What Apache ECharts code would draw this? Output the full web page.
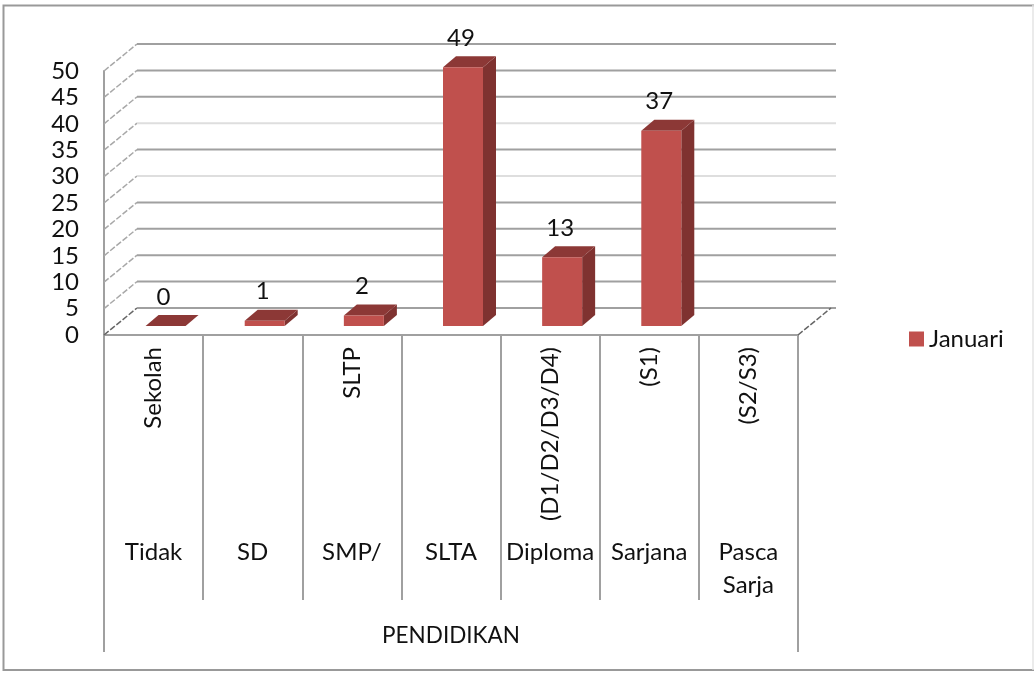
<!DOCTYPE html>
<html lang="en">

<head>
    <meta charset="UTF-8">
    <title>Pendidikan</title>
    <style>
        html, body { margin: 0; padding: 0; background: #fff; }
    </style>
</head>

<body>
    <div id="main" style="width: 1034px; height: 675px"></div>
    <script src="https://cdn.jsdelivr.net/npm/echarts@6/dist/echarts.min.js"></script>
    <script type="text/javascript">
        // chart data
        var categories = ['Tidak', 'SD', 'SMP/', 'SLTA', 'Diploma', 'Sarjana', 'Pasca\nSarja'];
        var subCategories = ['Sekolah', '', 'SLTP', '', '(D1/D2/D3/D4)', '(S1)', '(S2/S3)'];
        var groupLabels = ['PENDIDIKAN'];
        var seriesName = 'Januari';
        var januari = [0, 1, 2, 49, 13, 37, null];
        var yTicks = [0, 5, 10, 15, 20, 25, 30, 35, 40, 45, 50];
        var paleTicks = [25, 35];

        var myChart = echarts.init(document.getElementById('main'));

        var font = 'Lato';
        var fontSize = 24;
        var textColor = '#111';
        var lineColor = '#a0a0a0';

        // depth of the fake 3d box, in px
        var wallDx = 33, wallDy = 27, wallRight = 38;
        // bars stand in the middle of the floor
        var barLift = 9, barShift = 12, barWidth = 40, barDx = 13, barDy = 11;

        function renderWall(params, api) {
            var v = api.value(0);
            var p = api.coord([0, v]);
            var band = api.size([1, 0])[0];
            var x0 = p[0] - band / 2;
            var x1 = x0 + band * categories.length;
            var pale = paleTicks.indexOf(v) >= 0;
            return {
                type: 'group',
                children: [{
                    type: 'line',
                    shape: { x1: x0, y1: p[1], x2: x0 + wallDx, y2: p[1] - wallDy },
                    style: { stroke: v === 0 ? '#666' : '#a8a8a8', lineWidth: 1.5, lineDash: [6, 2] }
                }, {
                    type: 'line',
                    shape: { x1: x0 + wallDx, y1: p[1] - wallDy, x2: x1 + wallRight, y2: p[1] - wallDy },
                    style: { stroke: pale ? '#dedede' : lineColor, lineWidth: 2 }
                }].concat(v === 0 ? [{
                    type: 'line',
                    shape: { x1: x1, y1: p[1], x2: x1 + wallDx, y2: p[1] - wallDy },
                    style: { stroke: '#666', lineWidth: 1.5, lineDash: [6, 2] }
                }] : [])
            };
        }

        function renderBar(params, api) {
            var value = api.value(1);
            var base = api.coord([api.value(0), 0]);
            var top = api.coord([api.value(0), value]);
            var left = base[0] + barShift - barWidth / 2;
            var right = left + barWidth;
            var yBase = base[1] - barLift;
            var yTop = top[1] - barLift;
            return {
                type: 'group',
                children: [{
                    type: 'polygon',
                    shape: { points: [[right, yBase], [right + barDx, yBase - barDy], [right + barDx, yTop - barDy], [right, yTop]] },
                    style: { fill: '#7f3230' }
                }, {
                    type: 'polygon',
                    shape: { points: [[left, yTop], [left + barDx, yTop - barDy], [right + barDx, yTop - barDy], [right, yTop]] },
                    style: { fill: '#8c3836' }
                }, {
                    type: 'rect',
                    shape: { x: left, y: yTop, width: barWidth, height: yBase - yTop },
                    style: { fill: '#c0504d' }
                }, {
                    type: 'text',
                    style: {
                        text: String(value),
                        x: left + barWidth / 2 - 2,
                        y: yTop - 29,
                        align: 'center',
                        verticalAlign: 'middle',
                        fill: textColor,
                        font: fontSize + 'px ' + font
                    }
                }]
            };
        }

        var barData = [];
        for (var i = 0; i < categories.length; i++) {
            if (januari[i] !== null) {
                barData.push([i, januari[i]]);
            }
        }

        var option = {
            animation: false,
            textStyle: { fontFamily: font },
            legend: {
                data: [seriesName],
                left: 904,
                top: 322,
                icon: 'rect',
                itemWidth: 15,
                itemHeight: 15,
                itemGap: 7,
                textStyle: { fontFamily: font, fontSize: fontSize, color: textColor }
            },
            grid: { left: 104, top: 71, width: 694, height: 264, outerBoundsMode: 'none' },
            xAxis: [{
                type: 'category',
                position: 'bottom',
                data: categories,
                axisLine: { lineStyle: { color: lineColor, width: 2 } },
                axisTick: { show: true, length: 265, lineStyle: { color: lineColor, width: 2 } },
                axisLabel: {
                    interval: 0,
                    margin: 201,
                    verticalAlign: 'top',
                    lineHeight: 33,
                    fontFamily: font,
                    fontSize: fontSize,
                    color: textColor
                }
            }, {
                type: 'category',
                position: 'bottom',
                data: subCategories,
                axisLine: { show: false },
                axisTick: { show: false },
                axisLabel: {
                    interval: 0,
                    rotate: 90,
                    margin: 12,
                    fontFamily: font,
                    fontSize: fontSize,
                    color: textColor
                }
            }, {
                type: 'category',
                position: 'bottom',
                data: groupLabels,
                axisLine: { show: false },
                axisTick: { show: true, length: 317, lineStyle: { color: lineColor, width: 2 } },
                axisLabel: {
                    margin: 289,
                    fontFamily: font,
                    fontSize: 22.5,
                    color: textColor
                }
            }],
            yAxis: {
                type: 'value',
                min: 0,
                max: 50,
                interval: 5,
                axisLine: { show: true, lineStyle: { color: lineColor, width: 2 } },
                axisTick: { show: false },
                splitLine: { show: false },
                axisLabel: {
                    margin: 25,
                    padding: [0, 0, 12, 0],
                    fontFamily: font,
                    fontSize: fontSize,
                    color: textColor
                }
            },
            graphic: [{
                type: 'polyline',
                silent: true,
                shape: { points: [[1034, 5.5], [3.5, 5.5], [3.5, 670], [1034, 670]] },
                style: { fill: 'none', stroke: '#999', lineWidth: 2 }
            }, {
                type: 'line',
                silent: true,
                shape: { x1: 1033, y1: 5, x2: 1033, y2: 670 },
                style: { stroke: '#e4e4e4', lineWidth: 1.5 }
            }],
            series: [{
                type: 'custom',
                name: 'wall',
                silent: true,
                data: yTicks.map(function (v) { return [v]; }),
                encode: { y: 0 },
                renderItem: renderWall,
                z: 1
            }, {
                type: 'custom',
                name: seriesName,
                data: barData,
                encode: { x: 0, y: 1 },
                itemStyle: { color: '#c0504d' },
                renderItem: renderBar,
                z: 3
            }]
        };
        myChart.setOption(option);
    </script>

</body>

</html>
